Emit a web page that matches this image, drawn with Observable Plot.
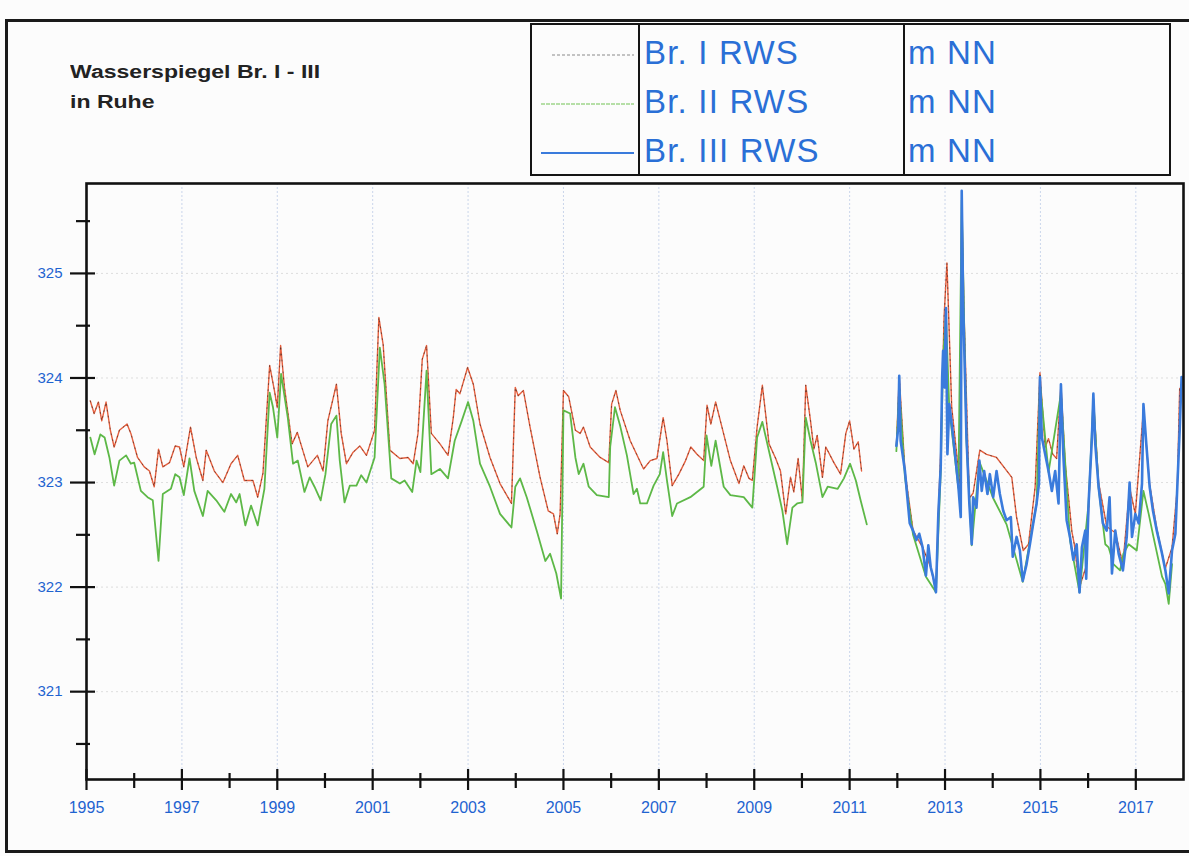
<!DOCTYPE html>
<html>
<head>
<meta charset="utf-8">
<script src="https://cdn.jsdelivr.net/npm/d3@7"></script>
<script src="https://cdn.jsdelivr.net/npm/@observablehq/plot@0.6"></script>
<style>
  html, body { margin: 0; padding: 0; background: #fcfcfc; overflow: hidden; }
  #page { position: relative; width: 1189px; height: 856px; overflow: hidden; font-family: "Liberation Sans", Arial, sans-serif; }
  #outer { position: absolute; left: 5px; top: 19px; width: 1200px; height: 834px; border: 3px solid #1a1a1a; box-sizing: border-box; }
  #chart { position: absolute; left: 0; top: 0; }
  #title { position: absolute; left: 70px; top: 57px; font-weight: bold; font-size: 18px; line-height: 30px; color: #222; transform: scaleX(1.28); transform-origin: 0 0; }
  #legend { position: absolute; left: 530px; top: 23px; width: 641px; height: 153px; border: 2.5px solid #151515; box-sizing: border-box; }
  .lg-div { position: absolute; top: 0; bottom: 0; width: 0; border-left: 2px solid #151515; }
  .lg-txt { position: absolute; font-size: 33px; color: #2a6fd6; letter-spacing: 1.2px; white-space: nowrap; line-height: 1; }
  #legend svg { position: absolute; left: 0; top: 0; }
</style>
</head>
<body>
<div id="page">
  <div id="outer"></div>
  <div id="chart"></div>
  <div id="title">Wasserspiegel Br. I - III<br>in Ruhe</div>
  <div id="legend"></div>
</div>
<script>
// ---- Data (decimal years, m NN) ----
const brI_early_years = [1995.08,1995.16,1995.25,1995.32,1995.41,1995.50,1995.58,1995.69,1995.85,1995.93,1996.07,1996.21,1996.32,1996.42,1996.51,1996.60,1996.74,1996.86,1996.95,1997.04,1997.18,1997.30,1997.44,1997.51,1997.68,1997.86,1998.03,1998.17,1998.31,1998.49,1998.59,1998.70,1998.84,1998.94,1999.00,1999.07,1999.15,1999.31,1999.42,1999.64,1999.84,1999.96,2000.06,2000.24,2000.34,2000.45,2000.59,2000.73,2000.87,2001.04,2001.13,2001.22,2001.36,2001.57,2001.74,2001.85,2001.95,2002.04,2002.13,2002.23,2002.41,2002.58,2002.69,2002.75,2002.83,2002.99,2003.11,2003.25,2003.46,2003.67,2003.91,2003.99,2004.05,2004.16,2004.30,2004.51,2004.68,2004.79,2004.87,2004.93,2005.00,2005.11,2005.25,2005.35,2005.42,2005.56,2005.77,2005.95,2006.01,2006.10,2006.19,2006.40,2006.68,2006.82,2006.96,2007.09,2007.17,2007.28,2007.42,2007.56,2007.67,2007.80,2007.94,2008.01,2008.09,2008.19,2008.29,2008.50,2008.68,2008.78,2008.89,2008.96,2009.06,2009.17,2009.31,2009.45,2009.55,2009.66,2009.76,2009.83,2009.92,2010.01,2010.08,2010.18,2010.25,2010.32,2010.43,2010.50,2010.67,2010.81,2010.92,2011.00,2011.09,2011.18,2011.25];
const brI_early_vals = [323.78,323.66,323.77,323.59,323.77,323.50,323.34,323.50,323.56,323.47,323.24,323.15,323.11,322.96,323.32,323.15,323.19,323.35,323.34,323.15,323.53,323.24,323.02,323.31,323.11,323.00,323.18,323.26,323.02,323.02,322.86,323.09,324.12,323.88,323.72,324.31,323.91,323.37,323.48,323.15,323.26,323.11,323.59,323.94,323.47,323.18,323.29,323.35,323.26,323.50,324.58,324.32,323.31,323.23,323.24,323.18,323.47,324.18,324.31,323.47,323.37,323.26,323.62,323.89,323.85,324.10,323.94,323.56,323.24,322.99,322.80,323.91,323.83,323.88,323.53,323.05,322.73,322.70,322.51,322.70,323.88,323.82,323.50,323.47,323.53,323.34,323.24,323.19,323.75,323.88,323.69,323.40,323.13,323.21,323.23,323.62,323.40,322.97,323.08,323.21,323.34,323.27,323.21,323.74,323.56,323.77,323.59,323.21,322.99,323.16,323.04,323.02,323.53,323.93,323.37,323.23,323.11,322.70,323.05,322.91,323.23,322.83,323.93,323.59,323.32,323.45,323.05,323.34,323.19,323.08,323.47,323.59,323.32,323.39,323.11];

const brI_late_years = [2011.98,2012.04,2012.16,2012.33,2012.53,2012.70,2012.81,2012.86,2012.91,2012.98,2013.04,2013.14,2013.31,2013.35,2013.40,2013.51,2013.59,2013.73,2013.87,2014.08,2014.40,2014.50,2014.64,2014.75,2014.89,2014.99,2015.10,2015.17,2015.26,2015.34,2015.43,2015.52,2015.66,2015.71,2015.82,2015.96,2016.11,2016.22,2016.39,2016.57,2016.73,2016.87,2016.99,2017.16,2017.29,2017.44,2017.62,2017.76,2017.87,2017.92];
const brI_late_vals = [323.35,324.02,323.11,322.54,322.38,322.19,321.97,322.72,323.30,324.58,325.10,323.72,322.99,325.70,324.60,322.85,322.90,323.31,323.27,323.24,323.05,322.67,322.35,322.41,322.96,324.05,323.34,323.42,323.27,323.23,323.94,323.18,322.53,322.41,322.00,322.20,323.80,323.00,322.58,322.52,322.22,322.95,322.70,323.70,322.98,322.56,322.18,322.38,322.95,323.90];

const brII_early_years = [1995.08,1995.17,1995.29,1995.38,1995.48,1995.58,1995.69,1995.83,1995.93,1996.00,1996.14,1996.28,1996.39,1996.51,1996.60,1996.77,1996.86,1996.95,1997.04,1997.16,1997.26,1997.44,1997.54,1997.72,1997.89,1998.03,1998.14,1998.21,1998.33,1998.45,1998.59,1998.73,1998.84,1998.91,1999.00,1999.08,1999.22,1999.33,1999.43,1999.57,1999.68,1999.78,1999.91,2000.01,2000.13,2000.24,2000.31,2000.41,2000.52,2000.66,2000.76,2000.87,2001.04,2001.15,2001.25,2001.39,2001.57,2001.67,2001.83,2001.92,2002.00,2002.13,2002.23,2002.41,2002.58,2002.72,2002.86,2003.00,2003.11,2003.25,2003.46,2003.67,2003.91,2003.99,2004.09,2004.23,2004.44,2004.62,2004.72,2004.85,2004.95,2005.00,2005.14,2005.25,2005.32,2005.42,2005.53,2005.70,2005.95,2005.98,2006.08,2006.19,2006.33,2006.47,2006.54,2006.61,2006.75,2006.89,2007.02,2007.09,2007.17,2007.28,2007.38,2007.66,2007.94,2008.00,2008.10,2008.19,2008.36,2008.50,2008.78,2008.96,2009.06,2009.17,2009.34,2009.48,2009.59,2009.69,2009.80,2009.90,2010.01,2010.08,2010.18,2010.29,2010.43,2010.54,2010.75,2010.88,2011.01,2011.13,2011.23,2011.36];
const brII_early_vals = [323.43,323.27,323.46,323.43,323.24,322.97,323.21,323.26,323.18,323.19,322.92,322.86,322.83,322.25,322.89,322.94,323.08,323.05,322.88,323.23,322.92,322.68,322.92,322.83,322.72,322.89,322.81,322.89,322.59,322.78,322.59,322.94,323.86,323.72,323.43,324.04,323.62,323.18,323.21,322.91,323.05,322.96,322.83,323.08,323.56,323.64,323.21,322.81,322.97,322.97,323.07,323.00,323.24,324.29,323.94,323.04,322.99,323.02,322.91,323.21,323.10,324.07,323.08,323.13,323.04,323.40,323.58,323.77,323.59,323.18,322.96,322.70,322.57,322.96,323.04,322.86,322.54,322.25,322.32,322.13,321.89,323.69,323.66,323.24,323.08,323.18,322.96,322.88,322.86,323.34,323.72,323.54,323.26,322.89,322.94,322.80,322.80,322.97,323.08,323.29,323.02,322.68,322.80,322.86,322.96,323.45,323.16,323.40,322.96,322.88,322.86,322.76,323.43,323.58,323.24,322.96,322.73,322.41,322.76,322.80,322.81,323.62,323.40,323.19,322.86,322.96,322.94,323.04,323.18,323.02,322.83,322.60];

const brII_late_years = [2011.98,2012.04,2012.16,2012.33,2012.60,2012.81,2012.91,2012.96,2013.02,2013.09,2013.28,2013.35,2013.45,2013.56,2013.72,2014.01,2014.29,2014.63,2014.92,2014.99,2015.17,2015.43,2015.62,2015.82,2016.01,2016.11,2016.22,2016.36,2016.43,2016.53,2016.67,2016.74,2016.85,2017.02,2017.16,2017.27,2017.37,2017.55,2017.62,2017.69,2017.76];
const brII_late_vals = [323.30,323.90,323.05,322.50,322.10,321.95,323.10,324.20,324.60,323.70,322.95,325.70,323.40,322.40,323.20,322.85,322.60,322.05,322.80,323.95,323.10,323.85,322.45,321.95,322.80,323.80,322.95,322.41,322.38,322.22,322.16,322.32,322.41,322.35,322.92,322.70,322.48,322.10,322.03,321.84,322.22];

const brIII_years = [2011.98,2012.02,2012.04,2012.07,2012.16,2012.26,2012.33,2012.40,2012.46,2012.53,2012.60,2012.65,2012.70,2012.75,2012.81,2012.86,2012.91,2012.94,2012.96,2012.99,2013.02,2013.05,2013.09,2013.14,2013.21,2013.28,2013.33,2013.35,2013.38,2013.45,2013.51,2013.56,2013.59,2013.66,2013.72,2013.77,2013.82,2013.89,2013.94,2014.01,2014.08,2014.15,2014.22,2014.29,2014.38,2014.42,2014.50,2014.57,2014.63,2014.71,2014.78,2014.85,2014.92,2014.97,2014.99,2015.03,2015.10,2015.17,2015.24,2015.31,2015.38,2015.43,2015.48,2015.55,2015.62,2015.69,2015.76,2015.82,2015.87,2015.94,2015.96,2016.01,2016.08,2016.11,2016.15,2016.22,2016.31,2016.39,2016.45,2016.50,2016.57,2016.64,2016.73,2016.81,2016.87,2016.92,2016.99,2017.06,2017.13,2017.16,2017.22,2017.29,2017.36,2017.44,2017.55,2017.62,2017.69,2017.76,2017.83,2017.87,2017.92,2017.96];
const brIII_vals = [323.35,323.53,324.02,323.40,323.11,322.61,322.54,322.45,322.51,322.38,322.11,322.40,322.19,322.10,321.95,322.70,323.15,324.01,324.26,323.91,324.67,323.27,323.75,323.56,323.27,322.96,322.67,325.79,324.71,323.43,322.80,322.41,322.86,322.76,323.21,322.92,323.11,322.89,323.08,322.86,323.11,322.89,322.73,322.64,322.67,322.29,322.48,322.35,322.06,322.22,322.41,322.61,322.80,322.99,324.01,323.43,323.27,323.11,322.92,323.11,322.80,323.94,323.27,322.64,322.48,322.26,322.41,321.95,322.38,322.54,322.08,322.80,323.43,323.85,323.37,322.96,322.61,322.54,322.86,322.13,322.54,322.32,322.16,322.48,323.00,322.48,322.70,322.61,322.99,323.75,323.37,322.96,322.73,322.54,322.32,322.16,321.94,322.35,322.51,322.96,323.50,324.01];

const yMajor = [321, 322, 323, 324, 325];
const yMinor = [320.5, 321.5, 322.5, 323.5, 324.5, 325.5];
const xMajor = [1995, 1997, 1999, 2001, 2003, 2005, 2007, 2009, 2011, 2013, 2015, 2017];
const xMinor = [1996, 1998, 2000, 2002, 2004, 2006, 2008, 2010, 2012, 2014, 2016];

const seriesNames = ["Br. I RWS", "Br. II RWS", "Br. III RWS"];
const seriesUnits = ["m NN", "m NN", "m NN"];

// ---- build rows ----
function rows(years, vals, seg) { return years.map((t, i) => ({t, v: vals[i], seg})); }
const brI = rows(brI_early_years, brI_early_vals, "a").concat(rows(brI_late_years, brI_late_vals, "b"));
const brII = rows(brII_early_years, brII_early_vals, "a").concat(rows(brII_late_years, brII_late_vals, "b"));
const brIII = rows(brIII_years, brIII_vals, "a");

const blueText = "#1f63d0";
const cRed = "#e5603f", cGreen = "#5db847", cBlue = "#3a7bdc";

const chart = Plot.plot({
  width: 1189, height: 856,
  marginLeft: 86, marginRight: 6, marginTop: 183, marginBottom: 77,
  x: {domain: [1995, 2018], axis: null},
  y: {domain: [320.16, 325.86], axis: null},
  style: {background: "transparent", fontFamily: "'Liberation Sans', Arial, sans-serif", overflow: "visible"},
  marks: [
    Plot.gridX(xMajor, {stroke: "#8fa8d6", strokeOpacity: 0.45, strokeDasharray: "2,2"}),
    Plot.gridY(yMajor, {stroke: "#999", strokeOpacity: 0.3, strokeDasharray: "2,3"}),
    Plot.line(brI, {x: "t", y: "v", z: "seg", stroke: cRed, strokeWidth: 1.4}),
    Plot.line(brI, {x: "t", y: "v", z: "seg", stroke: "#222", strokeWidth: 1, strokeDasharray: "1,5", strokeOpacity: 0.55}),
    Plot.line(brII, {x: "t", y: "v", z: "seg", stroke: cGreen, strokeWidth: 1.8}),
    Plot.line(brIII, {x: "t", y: "v", z: "seg", stroke: cBlue, strokeWidth: 2.6}),
    Plot.frame({stroke: "#111", strokeWidth: 2.6}),
    // y ticks (crossing the axis)
    Plot.axisY(yMajor, {anchor: "left", label: null, tickSize: 25, dx: 9, tickFormat: () => "", stroke: "#111", strokeWidth: 2.2}),
    Plot.axisY(yMinor, {anchor: "left", label: null, tickSize: 14, dx: 4, tickFormat: () => "", stroke: "#111", strokeWidth: 2.2}),
    Plot.axisY(yMajor, {anchor: "left", label: null, tickSize: 0, tickPadding: 24, tickFormat: d => String(d), fill: blueText, fontSize: 15}),
    // x ticks
    Plot.axisX(xMajor, {anchor: "bottom", label: null, tickSize: 21, dy: -10, tickFormat: () => "", stroke: "#111", strokeWidth: 2.2}),
    Plot.axisX(xMinor, {anchor: "bottom", label: null, tickSize: 15, dy: -6, tickFormat: () => "", stroke: "#111", strokeWidth: 2.2}),
    Plot.axisX(xMajor, {anchor: "bottom", label: null, tickSize: 0, tickPadding: 22, tickFormat: d => String(d), fill: blueText, fontSize: 16})
  ]
});
document.getElementById("chart").appendChild(chart);

// ---- legend ----
const lg = document.getElementById("legend");
const sampleColors = ["#8a8a8a", "#9fd58a", cBlue];
const sampleWidths = [1, 1.6, 2.2];
const sampleDash = ["3,2", "4,1", null];
const rowTop = [11, 60, 109];
const ns = "http://www.w3.org/2000/svg";
const svg = document.createElementNS(ns, "svg");
svg.setAttribute("width", 110); svg.setAttribute("height", 150);
seriesNames.forEach((name, i) => {
  const ln = document.createElementNS(ns, "line");
  ln.setAttribute("x1", i === 0 ? 20 : 9); ln.setAttribute("x2", 102);
  const yy = [30, 79, 128][i];
  ln.setAttribute("y1", yy); ln.setAttribute("y2", yy);
  ln.setAttribute("stroke", sampleColors[i]);
  ln.setAttribute("stroke-width", sampleWidths[i]);
  if (sampleDash[i]) ln.setAttribute("stroke-dasharray", sampleDash[i]);
  svg.appendChild(ln);
  const t1 = document.createElement("div");
  t1.className = "lg-txt"; t1.textContent = name;
  t1.style.left = "112px"; t1.style.top = rowTop[i] + "px";
  lg.appendChild(t1);
  const t2 = document.createElement("div");
  t2.className = "lg-txt"; t2.textContent = seriesUnits[i];
  t2.style.left = "376px"; t2.style.top = rowTop[i] + "px";
  lg.appendChild(t2);
});
lg.appendChild(svg);
[106, 371].forEach(x => {
  const d = document.createElement("div");
  d.className = "lg-div"; d.style.left = x + "px";
  lg.appendChild(d);
});
</script>
</body>
</html>
